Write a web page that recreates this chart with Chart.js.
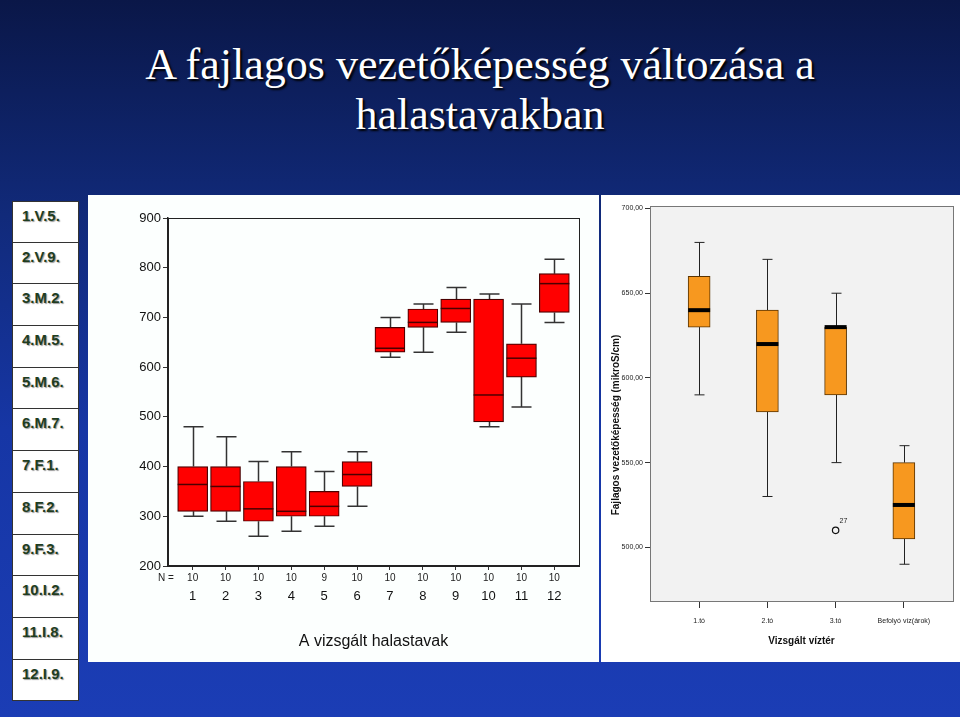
<!DOCTYPE html>
<html>
<head>
<meta charset="utf-8">
<script src="https://cdn.jsdelivr.net/npm/chart.js@4/dist/chart.umd.min.js"></script>
<style>
  html, body { margin: 0; padding: 0; }
  body {
    width: 960px; height: 717px; overflow: hidden; position: relative;
    background: linear-gradient(to bottom, #0a1748 0%, #112a7a 30%, #1636a5 60%, #1b3db5 100%);
    font-family: "Liberation Sans", Arial, sans-serif;
  }
  #title {
    position: absolute; left: 0; top: 40px; width: 960px; text-align: center;
    font-family: "Liberation Serif", "Times New Roman", serif; font-size: 44px; line-height: 50px;
    color: #fff; text-shadow: 2px 2px 2px #000;
  }
  #labels { position: absolute; left: 12px; top: 201px; width: 67px; }
  .lab {
    height: 41.7px; box-sizing: border-box; background: #fff;
    border: 1px solid #333; border-top: none; padding: 5px 0 0 9px;
    font-weight: bold; font-size: 15px; color: #1f3d1f; text-shadow: 1px 1px 1px #999;
  }
  .lab:first-child { border-top: 1px solid #333; }
  #leftPanel { position: absolute; left: 88px; top: 195px; width: 511px; height: 467px; background: #fcfffe; }
  #rightPanel { position: absolute; left: 601px; top: 195px; width: 359px; height: 467px; background: #fff; }
</style>
</head>
<body>
<div id="title">A fajlagos vezetőképesség változása a<br>halastavakban</div>
<div id="labels"></div>
<div id="leftPanel"><canvas id="c1" width="511" height="467"></canvas></div>
<div id="rightPanel"><canvas id="c2" width="359" height="467"></canvas></div>
<script>
// ---- pond labels (left column)
const pondNames = ['1.V.5.', '2.V.9.', '3.M.2.', '4.M.5.', '5.M.6.', '6.M.7.',
                   '7.F.1.', '8.F.2.', '9.F.3.', '10.I.2.', '11.I.8.', '12.I.9.'];

// ---- left chart: 12 ponds
const pondCats = ['1', '2', '3', '4', '5', '6', '7', '8', '9', '10', '11', '12'];
const pondN    = [10, 10, 10, 10, 9, 10, 10, 10, 10, 10, 10, 10];
const pondMin  = [300, 290, 260, 270, 280, 320, 620, 630, 670, 480, 520, 690];
const pondQ1   = [310, 310, 290, 300, 300, 360, 630, 680, 690, 490, 580, 710];
const pondMed  = [364, 360, 315, 310, 320, 384, 638, 690, 718, 544, 618, 768];
const pondQ3   = [400, 400, 370, 400, 350, 410, 680, 717, 737, 737, 647, 788];
const pondMax  = [480, 460, 410, 430, 390, 430, 700, 727, 760, 747, 727, 817];

// ---- right chart: water bodies
const waterCats = ['1.tó', '2.tó', '3.tó', 'Befolyó víz(árok)'];
const waterMin  = [590, 530, 550, 490];
const waterQ1   = [630, 580, 590, 505];
const waterMed  = [640, 620, 630, 525];
const waterQ3   = [660, 640, 630, 550];
const waterMax  = [680, 670, 650, 560];
const outlierCat = [3];
const outlierVal = [510];
const outlierId  = ['27'];
const waterTicks = [500, 550, 600, 650, 700];

const FONT = '"Liberation Sans", Arial, sans-serif';

document.getElementById('labels').innerHTML =
  pondNames.map(n => '<div class="lab">' + n + '</div>').join('');

// whiskers, caps, medians, frame
function boxPlugin(cfg) {
  return {
    id: 'box_' + cfg.id,
    beforeDatasetsDraw(chart) {
      const {ctx, chartArea: a, scales: {x, y}} = chart;
      if (cfg.plotBg) {
        ctx.save();
        ctx.fillStyle = cfg.plotBg;
        ctx.fillRect(a.left, a.top, a.width, a.height);
        ctx.restore();
      }
      ctx.save();
      ctx.strokeStyle = cfg.whiskerColor;
      ctx.lineWidth = cfg.whiskerWidth;
      cfg.min.forEach((lo, i) => {
        const px = Math.round(x.getPixelForValue(i + 1)) + 0.5;
        const hw = cfg.capWidth / 2;
        const yLo = y.getPixelForValue(lo), yHi = y.getPixelForValue(cfg.max[i]);
        ctx.beginPath();
        ctx.moveTo(px, yHi); ctx.lineTo(px, y.getPixelForValue(cfg.q3[i]));
        ctx.moveTo(px, yLo); ctx.lineTo(px, y.getPixelForValue(cfg.q1[i]));
        ctx.moveTo(px - hw, yHi); ctx.lineTo(px + hw, yHi);
        ctx.moveTo(px - hw, yLo); ctx.lineTo(px + hw, yLo);
        ctx.stroke();
      });
      ctx.restore();
    },
    afterDatasetsDraw(chart) {
      const {ctx, chartArea: a, scales: {x, y}} = chart;
      ctx.save();
      ctx.strokeStyle = cfg.medColor;
      ctx.lineWidth = cfg.medWidth;
      cfg.med.forEach((m, i) => {
        const px = x.getPixelForValue(i + 1);
        const py = y.getPixelForValue(m);
        ctx.beginPath();
        ctx.moveTo(px - cfg.boxWidth / 2, py); ctx.lineTo(px + cfg.boxWidth / 2, py);
        ctx.stroke();
      });
      // frame around plot
      ctx.strokeStyle = cfg.frameColor;
      ctx.lineWidth = 1;
      ctx.strokeRect(Math.round(a.left) + 0.5, Math.round(a.top) + 0.5, Math.round(a.width), Math.round(a.height));
      if (cfg.extra) cfg.extra(chart);
      ctx.restore();
    }
  };
}

// ---------------------------------------------------------------- left chart
new Chart(document.getElementById('c1'), {
  type: 'bar',
  data: {
    datasets: [{
      data: pondCats.map((c, i) => ({x: i + 1, y: [pondQ1[i], pondQ3[i]]})),
      backgroundColor: '#ff0000',
      borderColor: '#4a0000',
      borderWidth: 1.2,
      borderSkipped: false,
      barThickness: 30
    }]
  },
  options: {
    responsive: false,
    animation: false,
    layout: {padding: {left: 0, right: 20, top: 23, bottom: 0}},
    plugins: {legend: {display: false}, tooltip: {enabled: false}},
    scales: {
      x: {
        type: 'linear', min: 0.25, max: 12.75, offset: false,
        afterBuildTicks: s => { s.ticks = pondCats.map((c, i) => ({value: i + 1})); },
        afterFit: s => { s.height = 96; },
        ticks: {callback: (v, i) => pondCats[i], font: {family: FONT, size: 13}, color: '#111', padding: 19, maxRotation: 0},
        grid: {drawOnChartArea: false, offset: false, tickLength: 4, color: '#333'},
        border: {color: '#222', width: 1.5},
        title: {display: true, text: 'A vizsgált halastavak', font: {family: FONT, size: 16}, color: '#111', padding: {bottom: 11}}
      },
      y: {
        min: 200, max: 900,
        afterFit: s => { s.width = 80; },
        ticks: {stepSize: 100, font: {family: FONT, size: 13}, color: '#111', padding: 2},
        grid: {drawOnChartArea: false, tickLength: 5, color: '#333'},
        border: {color: '#222', width: 1.5}
      }
    }
  },
  plugins: [boxPlugin({
    id: 'left', min: pondMin, q1: pondQ1, med: pondMed, q3: pondQ3, max: pondMax,
    whiskerColor: '#333', whiskerWidth: 1.5, capWidth: 20, boxWidth: 30,
    medColor: '#4a0000', medWidth: 1.5, frameColor: '#222',
    extra(chart) {
      const {ctx, chartArea: a, scales: {x}} = chart;
      ctx.fillStyle = '#222';
      ctx.font = '10px ' + FONT;
      ctx.textAlign = 'center';
      ctx.textBaseline = 'middle';
      pondN.forEach((n, i) => ctx.fillText(String(n), x.getPixelForValue(i + 1), a.bottom + 12));
      ctx.fillText('N =', a.left - 2, a.bottom + 12);
    }
  })]
});

// ---------------------------------------------------------------- right chart
new Chart(document.getElementById('c2'), {
  type: 'bar',
  data: {
    datasets: [{
      data: waterCats.map((c, i) => ({x: i + 1, y: [waterQ1[i], waterQ3[i]]})),
      backgroundColor: '#f7981f',
      borderColor: '#5a3300',
      borderWidth: 1,
      borderSkipped: false,
      barThickness: 22
    }, {
      type: 'scatter',
      data: outlierCat.map((c, i) => ({x: c, y: outlierVal[i]})),
      pointStyle: 'circle', pointRadius: 3.2,
      backgroundColor: 'rgba(0,0,0,0)', borderColor: '#111', borderWidth: 1.2
    }]
  },
  options: {
    responsive: false,
    animation: false,
    layout: {padding: {left: 0, right: 7, top: 11, bottom: 0}},
    plugins: {legend: {display: false}, tooltip: {enabled: false}},
    scales: {
      x: {
        type: 'linear', min: 0.28, max: 4.72, offset: false,
        afterBuildTicks: s => { s.ticks = waterCats.map((c, i) => ({value: i + 1})); },
        afterFit: s => { s.height = 61; },
        ticks: {callback: (v, i) => waterCats[i], font: {family: FONT, size: 7}, color: '#222', padding: 9, maxRotation: 0},
        grid: {drawOnChartArea: false, offset: false, tickLength: 7, color: '#333'},
        border: {color: '#333', width: 1},
        title: {display: true, text: 'Vizsgált víztér', font: {family: FONT, size: 10, weight: 'bold'}, color: '#111', padding: {bottom: 15}}
      },
      y: {
        min: 468.3, max: 701.5,
        afterBuildTicks: s => { s.ticks = waterTicks.map(v => ({value: v})); },
        afterFit: s => { s.width = 49; },
        ticks: {callback: v => v.toFixed(2).replace('.', ','), font: {family: FONT, size: 7}, color: '#222', padding: 2},
        grid: {drawOnChartArea: false, tickLength: 5, color: '#333'},
        border: {color: '#333', width: 1},
        title: {display: false}
      }
    }
  },
  plugins: [boxPlugin({
    id: 'right', min: waterMin, q1: waterQ1, med: waterMed, q3: waterQ3, max: waterMax,
    whiskerColor: '#222', whiskerWidth: 1, capWidth: 10, boxWidth: 22,
    medColor: '#000', medWidth: 4, frameColor: '#777', plotBg: '#f2f2f2',
    extra(chart) {
      const {ctx, scales: {x, y}} = chart;
      ctx.fillStyle = '#222';
      ctx.font = '7px ' + FONT;
      ctx.textAlign = 'left';
      ctx.textBaseline = 'middle';
      outlierCat.forEach((c, i) => ctx.fillText(outlierId[i], x.getPixelForValue(c) + 4, y.getPixelForValue(outlierVal[i]) - 9));
      // y axis title
      ctx.save();
      ctx.translate(15, 425 - 195);
      ctx.rotate(-Math.PI / 2);
      ctx.textAlign = 'center';
      ctx.font = 'bold 10px ' + FONT;
      ctx.fillStyle = '#111';
      ctx.fillText('Fajlagos vezetőképesség (mikroS/cm)', 0, 0);
      ctx.restore();
    }
  })]
});
</script>
</body>
</html>
